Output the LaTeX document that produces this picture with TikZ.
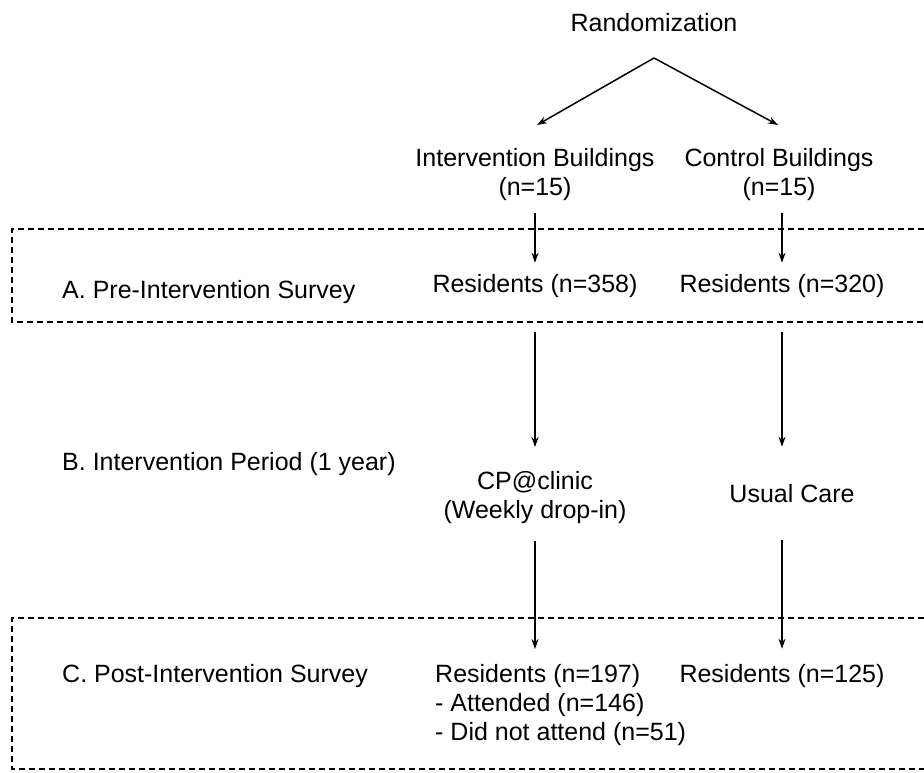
\documentclass[tikz,border=0pt]{standalone}
\usepackage{fontspec}
\setmainfont{Liberation Sans}
\usetikzlibrary{arrows.meta,positioning}

\begin{document}
\begin{tikzpicture}[x=1pt,y=-1pt,>={Stealth[length=10pt,width=7pt]},
  lbl/.style={font=\fontsize{25}{29}\selectfont,inner sep=0pt},
  arr/.style={->,line width=1.5pt},
  frame/.style={dash pattern=on 6pt off 4pt,line width=1.5pt}]

\useasboundingbox (0,0) rectangle (924,773);

% randomization
\node[lbl,anchor=base] (rand) at (654,32) {Randomization};
\coordinate (apex) at (654,58);
\coordinate (tipL) at (537,125);
\coordinate (tipR) at (778,125);
\draw[arr] (apex) -- (tipL);
\draw[arr] (apex) -- (tipR);

% building groups
\node[lbl,anchor=north,align=center] (intb) at (535,148) {Intervention Buildings\\(n=15)};
\node[lbl,anchor=north,align=center] (ctrl) at (779,148) {Control Buildings\\(n=15)};

% A. pre-intervention survey
\draw[frame] (924,229) -- (12,229) -- (12,322) -- (924,322);
\node[lbl,anchor=base west] (preLbl) at (62,298) {A. Pre-Intervention Survey};
\node[lbl,anchor=base] (preI) at (535,292) {Residents (n=358)};
\node[lbl,anchor=base] (preC) at (782,292) {Residents (n=320)};
\draw[arr,shorten <=12pt,shorten >=11pt] (intb.south) -- (preI.north);
\draw[arr,shorten <=12pt,shorten >=11pt] (ctrl.south -| preC.north) -- (preC.north);

% B. intervention period
\node[lbl,anchor=base west] (perLbl) at (62,470) {B. Intervention Period (1 year)};
\node[lbl,anchor=north,align=center] (cp) at (535,471) {CP@clinic\\(Weekly drop-in)};
\node[lbl,anchor=base] (usual) at (792,502) {Usual Care};
\draw[arr,shorten <=35pt,shorten >=24pt] (preI.south) -- (cp.north);
\draw[arr,shorten <=35pt,shorten >=37pt] (preC.south) -- (preC.south |- usual.north);

% C. post-intervention survey
\draw[frame] (924,618) -- (12,618) -- (12,769) -- (924,769);
\node[lbl,anchor=base west] (postLbl) at (62,682) {C. Post-Intervention Survey};
\node[lbl,anchor=north west,align=left] (postI) at (435,664) {Residents (n=197)\\- Attended (n=146)\\- Did not attend (n=51)};
\node[lbl,anchor=base] (postC) at (782,682) {Residents (n=125)};
\draw[arr,shorten <=17pt,shorten >=15pt] (cp.south) -- (cp.south |- postI.north);
\draw[arr,shorten <=38pt,shorten >=15pt] (postC.north |- usual.south) -- (postC.north);

\end{tikzpicture}
\end{document}
